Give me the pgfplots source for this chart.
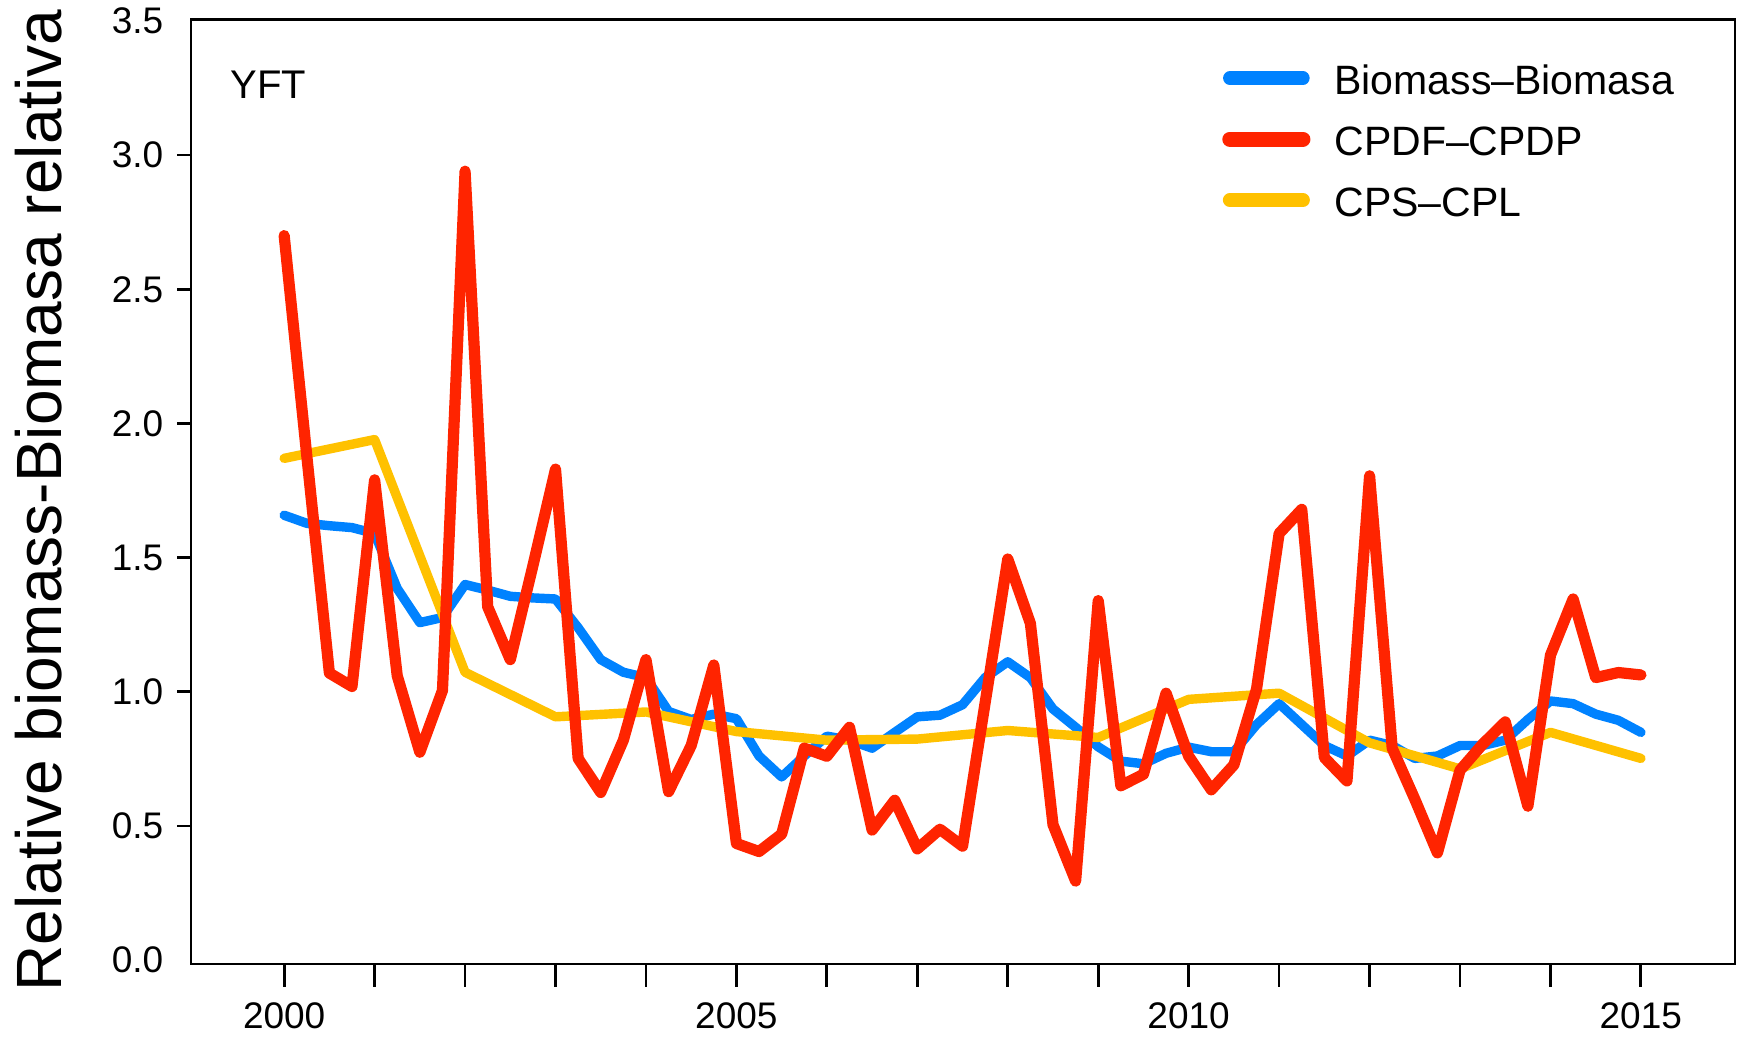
\documentclass[border=0pt]{standalone}
\usepackage{fontspec}
\setmainfont{Liberation Sans}
\usepackage{pgfplots}
\pgfplotsset{compat=1.18}
\definecolor{cblue}{RGB}{0,130,255}
\definecolor{cred}{RGB}{255,36,0}
\definecolor{cyel}{RGB}{255,193,0}

\pgfplotstableread{
x y
2000.00 1.658
2000.25 1.628
2000.50 1.619
2000.75 1.612
2001.00 1.590
2001.25 1.385
2001.50 1.258
2001.75 1.277
2002.00 1.400
2002.25 1.379
2002.50 1.356
2002.75 1.350
2003.00 1.346
2003.25 1.239
2003.50 1.120
2003.75 1.073
2004.00 1.053
2004.25 0.927
2004.50 0.897
2004.75 0.917
2005.00 0.900
2005.25 0.761
2005.50 0.683
2005.75 0.761
2006.00 0.835
2006.25 0.820
2006.50 0.790
2006.75 0.849
2007.00 0.907
2007.25 0.913
2007.50 0.952
2007.75 1.053
2008.00 1.112
2008.25 1.053
2008.50 0.936
2008.75 0.868
2009.00 0.795
2009.25 0.742
2009.50 0.732
2009.75 0.771
2010.00 0.794
2010.25 0.777
2010.50 0.777
2010.75 0.878
2011.00 0.956
2011.25 0.878
2011.50 0.800
2011.75 0.761
2012.00 0.820
2012.25 0.800
2012.50 0.752
2012.75 0.761
2013.00 0.800
2013.25 0.800
2013.50 0.820
2013.75 0.897
2014.00 0.966
2014.25 0.956
2014.50 0.917
2014.75 0.894
2015.00 0.849
}\biomass

\pgfplotstableread{
x y
2000.00 2.70
2000.25 1.88
2000.50 1.07
2000.75 1.02
2001.00 1.79
2001.25 1.06
2001.50 0.775
2001.75 1.005
2002.00 2.94
2002.25 1.317
2002.50 1.12
2002.75 1.47
2003.00 1.83
2003.25 0.752
2003.50 0.625
2003.75 0.82
2004.00 1.12
2004.25 0.628
2004.50 0.80
2004.75 1.10
2005.00 0.435
2005.25 0.405
2005.50 0.47
2005.75 0.79
2006.00 0.76
2006.25 0.868
2006.50 0.485
2006.75 0.596
2007.00 0.415
2007.25 0.488
2007.50 0.425
2007.75 0.96
2008.00 1.495
2008.25 1.255
2008.50 0.505
2008.75 0.295
2009.00 1.34
2009.25 0.65
2009.50 0.693
2009.75 0.995
2010.00 0.76
2010.25 0.635
2010.50 0.728
2010.75 1.01
2011.00 1.59
2011.25 1.68
2011.50 0.755
2011.75 0.668
2012.00 1.805
2012.25 0.79
2012.50 0.60
2012.75 0.40
2013.00 0.708
2013.25 0.805
2013.50 0.888
2013.75 0.574
2014.00 1.137
2014.25 1.346
2014.50 1.053
2014.75 1.072
2015.00 1.063
}\cpdf

\pgfplotstableread{
x y
2000 1.870
2001 1.940
2002 1.073
2003 0.907
2004 0.925
2005 0.852
2006 0.820
2007 0.824
2008 0.856
2009 0.830
2010 0.972
2011 0.995
2012 0.810
2013 0.713
2014 0.849
2015 0.752
}\cps

\begin{document}
\begin{tikzpicture}
\begin{axis}[
  scale only axis,
  width=386pt, height=236.175pt,
  xmin=1998.97, xmax=2016.04,
  ymin=-0.014, ymax=3.506,
  axis line style={line width=0.7pt, black},
  tick style={line width=0.7pt, black},
  tick align=outside,
  xtick pos=bottom, ytick pos=left,
  xtick={2000,...,2015},
  xticklabels={2000,,,,,2005,,,,,2010,,,,,2015},
  xtick style={/pgfplots/major tick length=5.75pt},
  ytick style={/pgfplots/major tick length=3.5pt},
  ytick={0.5,1.0,1.5,2.0,2.5,3.0},
  extra y ticks={0,3.5},
  extra y tick style={ytick style={/pgfplots/major tick length=0pt}},
  /pgf/number format/assume math mode=true,
  /pgf/number format/fixed,
  /pgf/number format/fixed zerofill,
  /pgf/number format/precision=1,
  xticklabel style={font=\fontsize{9.25}{11}\selectfont, yshift=-1.8pt},
  yticklabel style={font=\fontsize{9.25}{11}\selectfont, xshift=0.85pt},
  ylabel={Relative biomass-Biomasa relativa},
  ylabel style={at={(axis description cs:-0.08355,0.4907)}, anchor=base, inner sep=0pt, font=\fontsize{16}{19}\selectfont},
  legend cell align=left,
  legend style={draw=none, fill=none, at={(0.6674,0.9561)}, anchor=north west,
    inner sep=0pt, row sep=6.95pt, column sep=6pt,
    nodes={inner sep=0pt, text height=8.3pt, text depth=0pt, font=\fontsize{10.25}{12}\selectfont}},
]
\addplot[cblue, line width=2.35pt, line cap=round, line join=round,
  legend image code/.code={\draw[cblue, line width=3.4pt, line cap=round] (0pt,0pt) -- (18.25pt,0pt);}]
  table[x=x, y=y] {\biomass};
\addlegendentry{Biomass–Biomasa}
\addlegendimage{legend image code/.code={\draw[cred, line width=3.8pt, line cap=round] (0pt,0pt) -- (18.25pt,0pt);}}
\addlegendentry{CPDF–CPDP}
\addplot[cyel, line width=2.35pt, line cap=round, line join=round,
  legend image code/.code={\draw[cyel, line width=3.5pt, line cap=round] (0pt,0pt) -- (18.25pt,0pt);}]
  table[x=x, y=y] {\cps};
\addlegendentry{CPS–CPL}
\addplot[cred, line width=2.8pt, line cap=round, line join=round, forget plot]
  table[x=x, y=y] {\cpdf};
\node[anchor=base west, inner sep=0pt, font=\fontsize{10}{12}\selectfont] at (rel axis cs:0.02526,0.91638) {YFT};
\end{axis}
\pgfresetboundingbox
\path ([shift={(-47.75pt,-18.25pt)}]current axis.south west) rectangle ([shift={(2.25pt,4.825pt)}]current axis.north east);
\end{tikzpicture}
\end{document}
